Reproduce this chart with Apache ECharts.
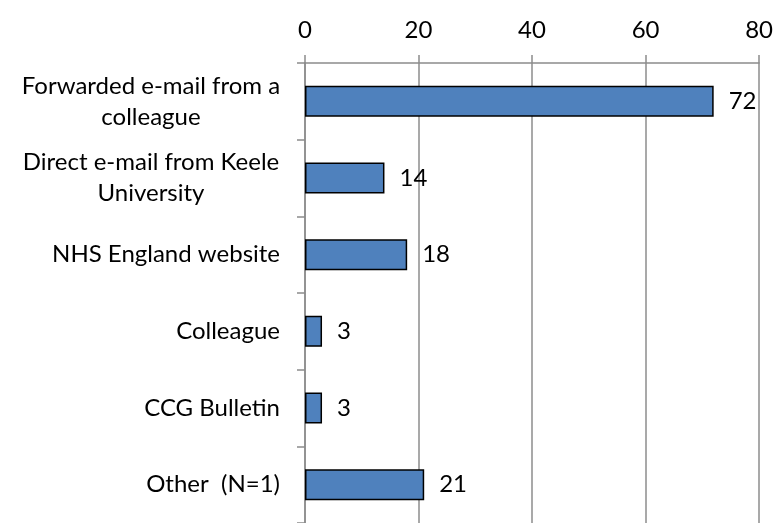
<!DOCTYPE html>
<html>
<head>
<meta charset="utf-8">
<script src="https://cdn.jsdelivr.net/npm/echarts@6/dist/echarts.min.js"></script>
<style>
  html, body { margin: 0; padding: 0; background: #fff; }
  #chart { width: 776px; height: 523px; }
</style>
</head>
<body>
<div id="chart"></div>
<script>
// categories, top to bottom
const categories = [
  "Forwarded e-mail from a\ncolleague",
  "Direct e-mail from Keele\nUniversity",
  "NHS England website",
  "Colleague",
  "CCG Bulletin",
  "Other  (N=1)"
];
const values = [72, 14, 18, 3, 3, 21];
const xTicks = [0, 20, 40, 60, 80];

const FONT = "Lato";
const chart = echarts.init(document.getElementById("chart"));

chart.setOption({
  animation: false,
  textStyle: { fontFamily: FONT },
  grid: {
    left: 305,
    right: 16,
    top: 63,
    bottom: -8,
    containLabel: false
  },
  xAxis: {
    type: "value",
    position: "top",
    min: xTicks[0],
    max: xTicks[xTicks.length - 1],
    interval: 20,
    axisLine: { show: true, lineStyle: { color: "#8c8c8c", width: 1.5 } },
    axisTick: { show: true, length: 8, lineStyle: { color: "#8c8c8c", width: 1.5 } },
    splitLine: { show: true, lineStyle: { color: "#8c8c8c", width: 1.5 } },
    axisLabel: {
      color: "#000",
      fontSize: 24,
      fontFamily: FONT,
      margin: 21
    }
  },
  yAxis: {
    type: "category",
    inverse: true,
    data: categories,
    axisLine: { show: true, lineStyle: { color: "#8c8c8c", width: 1.5 } },
    axisTick: { show: true, length: 8, lineStyle: { color: "#8c8c8c", width: 1.5 } },
    axisLabel: {
      color: "#000",
      fontSize: 24,
      fontFamily: FONT,
      margin: 25,
      lineHeight: 31,
      align: "right",
      formatter: function (v) {
        if (v.indexOf("\n") < 0) return v;
        return v.split("\n").map(function (s) { return "{c|" + s + "}"; }).join("\n");
      },
      rich: {
        c: {
          width: 258,
          align: "center",
          fontSize: 24,
          fontFamily: FONT,
          lineHeight: 31,
          color: "#000"
        }
      }
    }
  },
  series: [{
    type: "bar",
    data: values,
    barWidth: 31,
    itemStyle: {
      color: "#4f81bd",
      borderColor: "#000",
      borderWidth: 1.5
    },
    label: {
      show: true,
      position: "right",
      distance: 15,
      color: "#000",
      fontSize: 24,
      fontFamily: FONT
    }
  }]
});
</script>
</body>
</html>
